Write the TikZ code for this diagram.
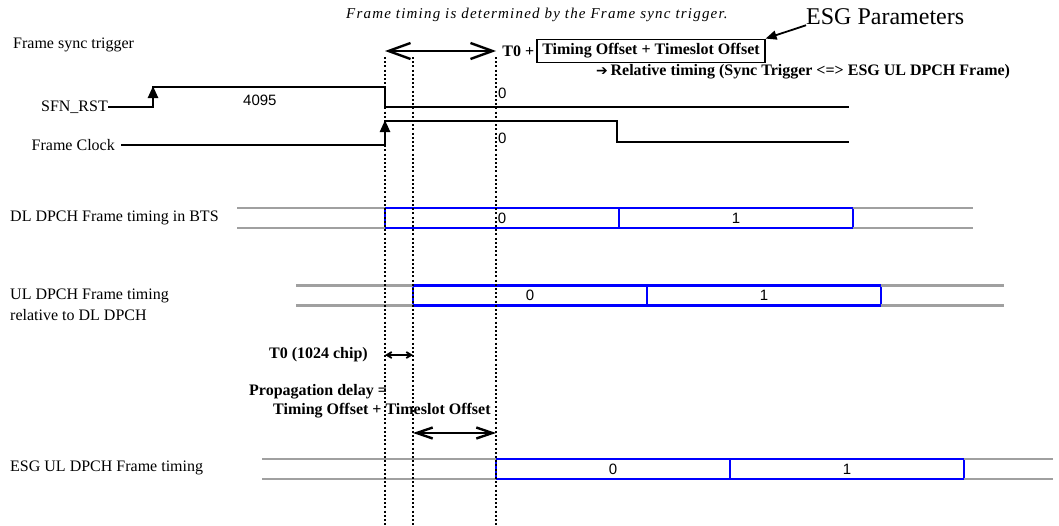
\documentclass[tikz,border=0pt]{standalone}
\usepackage{fontspec}
\setmainfont{Liberation Serif}
\newfontfamily\numfont{Liberation Sans}
\newfontfamily\symfont{DejaVu Sans}
\newfontfamily\notefont{Liberation Serif}[LetterSpace=8]
\usepackage{tikz}
\usetikzlibrary{arrows.meta,positioning}
\definecolor{myblue}{RGB}{0,0,255}
\definecolor{mygray}{RGB}{160,160,160}

\begin{document}
\begin{tikzpicture}[x=1pt,y=-1pt,
  sig/.style={line width=2.4pt},
  rail/.style={draw=mygray, line width=2.4pt},
  frm/.style={draw=myblue, line width=2.6pt, minimum width=234pt, minimum height=20pt, inner sep=0pt, outer sep=0pt, font=\numfont\fontsize{15}{15}\selectfont},
  lbl/.style={inner sep=0pt, font=\fontsize{16}{21}\selectfont},
  blbl/.style={inner sep=0pt, font=\fontsize{16}{19}\selectfont\bfseries},
  num/.style={inner sep=0pt, anchor=west, font=\numfont\fontsize{15}{15}\selectfont},
  vline/.style={line width=2pt, dash pattern=on 2pt off 2.2pt},
  bigbarb/.style={{Straight Barb[length=22pt,width=16pt]}-{Straight Barb[length=22pt,width=16pt]}}]
  \useasboundingbox (0,0) rectangle (1059,525);

  % time marks
  \coordinate (ta) at (385,57);
  \coordinate (tb) at (413,57);
  \coordinate (tc) at (496,57);

  % header
  \node[inner sep=0pt, anchor=west, font=\notefont\itshape\fontsize{15}{15}\selectfont] (note) at (346,15) {Frame timing is determined by the Frame sync trigger.};
  \node[inner sep=0pt, anchor=west, font=\fontsize{24}{24}\selectfont] (esgpar) at (806,17) {ESG Parameters};
  \node[lbl, anchor=west] (fst) at (13,45) {Frame sync trigger};
  \node[draw, line width=1.8pt, blbl, inner xsep=5pt, minimum height=23pt] (esgbox) at (651,51) {Timing Offset + Timeslot Offset};
  \node[blbl, anchor=east, inner xsep=2pt] (t0plus) at (esgbox.west) {T0 +};
  \node[blbl, anchor=west] (reltime) at (596,72) {{\symfont\fontsize{14}{14}\selectfont ➔}\,Relative timing (Sync Trigger <=> ESG UL DPCH Frame)};
  \draw[line width=1.8pt, -{Triangle[length=11pt,width=9pt]}] (esgpar.south west) -- (esgbox.north east);
  \draw[line width=2.4pt, bigbarb] (ta |- esgbox) -- (tc |- esgbox);

  % SFN_RST
  \node[lbl, anchor=east] (sfn) at (108,107) {SFN\_RST};
  \node[num] (cnt) at (243,100) {4095};
  \node[num] (sfn0) at (498,93) {0};
  \draw[sig] (sfn.east) -- (153,107) -- (153,87) -- (385,87) -- (385,107) -- (849,107);
  \draw[sig, -{Triangle[length=12pt,width=10pt]}] (153,107) -- (153,86);

  % Frame Clock
  \node[lbl, anchor=east] (fclk) at (115,145) {Frame Clock};
  \node[num] (clk0) at (498,138) {0};
  \draw[sig] ([xshift=6pt]fclk.east) -- (385,145) -- (385,121) -- (617,121) -- (617,142) -- (849,142);
  \draw[sig, -{Triangle[length=12pt,width=10pt]}] (385,145) -- (385,120);

  % DL DPCH
  \node[lbl, anchor=west] (dllbl) at (10,218) {DL DPCH Frame timing in BTS};
  \node[frm] (dl0) at (502,218) {0};
  \node[frm, right=0pt of dl0] (dl1) {1};
  \draw[rail] (dl0.north west) -- ++(-148,0);
  \draw[rail] (dl0.south west) -- ++(-148,0);
  \draw[rail] (dl1.north east) -- ++(120,0);
  \draw[rail] (dl1.south east) -- ++(120,0);

  % UL DPCH
  \node[lbl, anchor=west, align=left] (ullbl) at (10,305) {UL DPCH Frame timing\\relative to DL DPCH};
  \node[frm] (ul0) at (530,295.5) {0};
  \node[frm, right=0pt of ul0] (ul1) {1};
  \draw[rail] (ul0.north west) -- ++(-117,0);
  \draw[rail] (ul0.south west) -- ++(-117,0);
  \draw[rail] (ul1.north east) -- ++(123,0);
  \draw[rail] (ul1.south east) -- ++(123,0);

  % offsets
  \node[blbl, anchor=east] (t0lbl) at (368,355) {T0 (1024 chip)};
  \draw[line width=1.8pt, {Straight Barb[length=5pt,width=6pt]}-{Straight Barb[length=5pt,width=6pt]}] (ta |- t0lbl) -- (tb |- t0lbl);
  \node[blbl, anchor=west] (prop1) at (249,392) {Propagation delay =};
  \node[blbl, anchor=west] (prop2) at (273,411) {Timing Offset + Timeslot Offset};
  \draw[line width=2.4pt, {Straight Barb[length=16pt,width=11pt]}-{Straight Barb[length=16pt,width=11pt]}] (tb |- 0,433) -- (tc |- 0,433);

  % ESG UL DPCH
  \node[lbl, anchor=west] (esglbl) at (10,468) {ESG UL DPCH Frame timing};
  \node[frm] (esg0) at (613,469) {0};
  \node[frm, right=0pt of esg0] (esg1) {1};
  \draw[rail] (esg0.north west) -- ++(-234,0);
  \draw[rail] (esg0.south west) -- ++(-234,0);
  \draw[rail] (esg1.north east) -- ++(89,0);
  \draw[rail] (esg1.south east) -- ++(89,0);

  % dotted time marks
  \foreach \t in {ta,tb,tc}
    \draw[vline] (\t) -- (\t |- 0,525);
\end{tikzpicture}
\end{document}
